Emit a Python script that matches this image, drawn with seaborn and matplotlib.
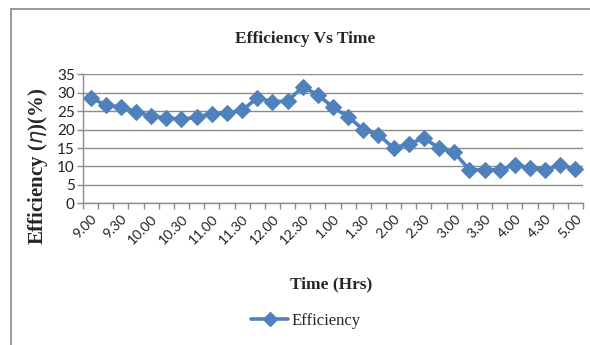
import matplotlib
matplotlib.use("Agg")
import matplotlib.pyplot as plt
from matplotlib import font_manager
from matplotlib.lines import Line2D
import seaborn as sns
import pandas as pd
import numpy as np

# Time of day (15-minute readings) and measured efficiency in percent
times = ["9.00", "9.15", "9.30", "9.45", "10.00", "10.15", "10.30", "10.45",
         "11.00", "11.15", "11.30", "11.45", "12.00", "12.15", "12.30", "12.45",
         "1.00", "1.15", "1.30", "1.45", "2.00", "2.15", "2.30", "2.45",
         "3.00", "3.15", "3.30", "3.45", "4.00", "4.15", "4.30", "4.45", "5.00"]
efficiency = [28.6, 26.7, 26.1, 24.9, 23.6, 23.2, 22.8, 23.4, 24.3, 24.5, 25.2,
              28.6, 27.6, 27.7, 31.6, 29.5, 26.0, 23.5, 20.0, 18.6, 15.0, 16.1,
              17.7, 15.0, 13.8, 9.1, 9.1, 9.1, 10.4, 9.7, 9.1, 10.4, 9.3]
y_ticks = [0, 5, 10, 15, 20, 25, 30, 35]

df = pd.DataFrame({"pos": range(len(times)), "time": times, "eff": efficiency})

sns.set_theme(style="white")

installed = {f.name for f in font_manager.fontManager.ttflist}
tick_family = "Liberation Sans Narrow" if "Liberation Sans Narrow" in installed else "Lato"
plt.rcParams["font.family"] = [tick_family, "DejaVu Sans"]

blue = "#4F81BD"
grid_gray = "#8c8c8c"

fig = plt.figure(figsize=(5.9, 3.45), dpi=100)
ax = fig.add_axes([83 / 590, 1 - 203.3 / 345, 500 / 590, 129 / 345])

sns.lineplot(data=df, x="pos", y="eff", ax=ax, color=blue, linewidth=2.6,
             marker="D", markersize=8.5, markeredgecolor=blue, legend=False)

ax.set_xlim(-0.5, len(times) - 0.5)
ax.set_ylim(0, 35)
ax.set_yticks(y_ticks)
ax.yaxis.grid(True, color=grid_gray, linewidth=1.0)
ax.xaxis.grid(False)

# labelled categories every half hour, tick marks between categories
ax.set_xticks(df["pos"][::2])
ax.set_xticklabels(df["time"][::2], rotation=45, ha="right",
                   rotation_mode="anchor", fontsize=10, color="#222222")
ax.set_xticks(np.arange(-0.5, len(times), 1.0), minor=True)
ax.tick_params(axis="x", which="major", length=0, pad=7)
ax.tick_params(axis="x", which="minor", length=4, width=1, color=grid_gray,
               direction="out", bottom=True)
ax.tick_params(axis="y", length=4, width=1, color=grid_gray, direction="out",
               left=True, labelsize=11, labelcolor="#222222", pad=2)

for side in ("top", "right"):
    ax.spines[side].set_visible(False)
for side in ("left", "bottom"):
    ax.spines[side].set_color(grid_gray)
    ax.spines[side].set_linewidth(1.0)

ax.set_xlabel("")
ax.set_ylabel("")

serif = ["Liberation Serif", "DejaVu Serif"]
fig.text(305 / 590, 1 - 39 / 345, "Efficiency Vs Time", ha="center",
         va="center", fontsize=12.5, fontweight="bold", family=serif)
fig.text(331 / 590, 1 - 284 / 345, "Time (Hrs)", ha="center", va="center",
         fontsize=12.5, fontweight="bold", family=serif)
fig.text(38 / 590, 1 - 166 / 345, r"Efficiency ($\eta$)(%)", ha="center",
         va="center", rotation=90, fontsize=15, fontweight="bold", family=serif)

handle = Line2D([], [], color=blue, linewidth=2.6, marker="D", markersize=7)
fig.legend([handle], ["Efficiency"], loc="center",
           bbox_to_anchor=(306 / 590, 1 - 321 / 345), frameon=False,
           prop={"family": serif, "size": 12}, handlelength=2.2,
           handletextpad=0.2)

# chart area frame
fig.add_artist(Line2D([10.5 / 590, 1.0], [1 - 8.5 / 345, 1 - 8.5 / 345],
                      transform=fig.transFigure, color="#888888", linewidth=1.2))
fig.add_artist(Line2D([10.5 / 590, 10.5 / 590], [0, 1 - 8.5 / 345],
                      transform=fig.transFigure, color="#888888", linewidth=1.2))

fig.savefig("out.png", dpi=100)
